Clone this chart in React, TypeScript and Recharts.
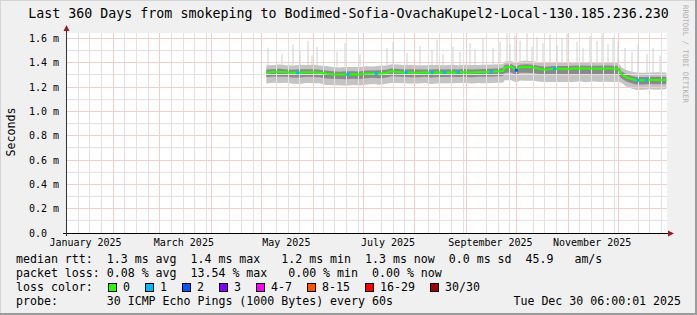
import React from "react";
import {
  ComposedChart,
  CartesianGrid,
  XAxis,
  YAxis,
  Area,
  Line,
  Scatter,
  ReferenceLine,
} from "recharts";

// x values are days since Jan 1 2025, y values are milliseconds
const days = [
  123, 127, 131, 135, 139, 143, 147, 151, 155, 159, 163, 167, 171, 175, 179, 183, 187, 191, 195,
  198, 202, 206, 210, 214, 218, 222, 226, 230, 234, 238, 242, 246, 250, 254, 258, 262,
  265, 266, 270, 273, 275, 279, 283, 287, 291, 295, 299, 303, 307, 311, 315, 319, 323, 327, 331, 334,
  336, 339, 342, 345, 349, 353, 357, 363,
];

const medianMs = [
  1.318, 1.323, 1.324, 1.321, 1.317, 1.319, 1.322, 1.321, 1.318, 1.309, 1.305, 1.302, 1.303, 1.305, 1.303, 1.31, 1.312, 1.312, 1.316,
  1.329, 1.324, 1.32, 1.32, 1.318, 1.321, 1.318, 1.321, 1.32, 1.322, 1.32, 1.324, 1.319, 1.322, 1.323, 1.325, 1.329,
  1.331, 1.36, 1.366, 1.338, 1.362, 1.364, 1.362, 1.348, 1.343, 1.35, 1.351, 1.349, 1.352, 1.354, 1.352, 1.353, 1.351, 1.353, 1.352, 1.35,
  1.305, 1.28, 1.266, 1.256, 1.255, 1.258, 1.257, 1.258,
];

// smoke spread above / below the median
const smokeUpOuter = [
  0.06, 0.058, 0.062, 0.057, 0.06, 0.064, 0.058, 0.061, 0.059, 0.063, 0.06, 0.058, 0.062, 0.059, 0.061, 0.06, 0.057, 0.062, 0.06,
  0.058, 0.061, 0.059, 0.063, 0.06, 0.058, 0.062, 0.06, 0.059, 0.061, 0.058, 0.06, 0.062, 0.059, 0.061, 0.06, 0.058,
  0.056, 0.05, 0.048, 0.06, 0.05, 0.052, 0.049, 0.055, 0.056, 0.053, 0.051, 0.054, 0.052, 0.05, 0.053, 0.051, 0.054, 0.052, 0.053, 0.055,
  0.058, 0.06, 0.062, 0.064, 0.063, 0.061, 0.064, 0.062,
];
const smokeDownOuter = [
  0.09, 0.088, 0.092, 0.086, 0.09, 0.094, 0.089, 0.091, 0.087, 0.093, 0.09, 0.088, 0.092, 0.089, 0.091, 0.09, 0.087, 0.093, 0.09,
  0.095, 0.091, 0.089, 0.092, 0.09, 0.088, 0.093, 0.09, 0.089, 0.091, 0.088, 0.092, 0.09, 0.089, 0.093, 0.091, 0.094,
  0.096, 0.105, 0.11, 0.1, 0.108, 0.112, 0.11, 0.104, 0.102, 0.108, 0.11, 0.107, 0.111, 0.109, 0.112, 0.108, 0.11, 0.109, 0.111, 0.106,
  0.07, 0.075, 0.078, 0.08, 0.078, 0.076, 0.079, 0.077,
];
const smokeUpInner = [
  0.025, 0.024, 0.026, 0.023, 0.025, 0.027, 0.024, 0.025, 0.024, 0.026, 0.025, 0.024, 0.026, 0.024, 0.025, 0.025, 0.023, 0.026, 0.025,
  0.024, 0.025, 0.024, 0.026, 0.025, 0.024, 0.026, 0.025, 0.024, 0.025, 0.024, 0.025, 0.026, 0.024, 0.025, 0.025, 0.024,
  0.024, 0.022, 0.021, 0.026, 0.022, 0.023, 0.022, 0.024, 0.024, 0.023, 0.022, 0.023, 0.023, 0.022, 0.023, 0.022, 0.023, 0.023, 0.023, 0.024,
  0.025, 0.026, 0.027, 0.027, 0.027, 0.026, 0.027, 0.026,
];
const smokeDownInner = [
  0.038, 0.037, 0.039, 0.036, 0.038, 0.04, 0.037, 0.038, 0.037, 0.039, 0.038, 0.037, 0.039, 0.037, 0.038, 0.038, 0.036, 0.039, 0.038,
  0.04, 0.038, 0.037, 0.039, 0.038, 0.037, 0.039, 0.038, 0.037, 0.038, 0.037, 0.039, 0.038, 0.037, 0.039, 0.038, 0.04,
  0.04, 0.044, 0.046, 0.042, 0.045, 0.047, 0.046, 0.044, 0.043, 0.045, 0.046, 0.045, 0.046, 0.046, 0.047, 0.045, 0.046, 0.046, 0.046, 0.044,
  0.032, 0.034, 0.035, 0.036, 0.035, 0.034, 0.035, 0.035,
];

// single slow pings sticking out of the smoke: [day, from, to]
const spikes = [
  [124, 1.38, 1.52], [132.4, 1.38, 1.47], [139, 1.38, 1.55], [143.2, 1.38, 1.5], [148, 1.38, 1.58],
  [150.4, 1.38, 1.46], [153.4, 1.38, 1.53], [165.4, 1.37, 1.49], [170.2, 1.37, 1.56], [179.2, 1.37, 1.47],
  [195.4, 1.38, 1.52], [199, 1.39, 1.57], [207.4, 1.38, 1.48], [215.2, 1.38, 1.54], [222.4, 1.38, 1.5],
  [225.4, 1.38, 1.59], [229, 1.38, 1.47], [235, 1.38, 1.53], [239.2, 1.38, 1.49], [245.2, 1.38, 1.56],
  [248.2, 1.38, 1.51], [253, 1.38, 1.6], [259, 1.39, 1.52], [263.2, 1.39, 1.57], [267.4, 1.41, 1.64],
  [269.2, 1.41, 1.55], [272.2, 1.41, 1.62], [275.2, 1.41, 1.58], [279.4, 1.41, 1.64], [282.4, 1.41, 1.53],
  [285.4, 1.41, 1.61], [289, 1.4, 1.56], [293.2, 1.4, 1.63], [297.4, 1.4, 1.54], [300.4, 1.4, 1.6],
  [303.4, 1.4, 1.64], [309.4, 1.4, 1.57], [313, 1.4, 1.52], [317.2, 1.4, 1.62], [321.4, 1.4, 1.58],
  [324.4, 1.4, 1.64], [328, 1.4, 1.55], [331, 1.4, 1.61], [334, 1.4, 1.57], [338.2, 1.35, 1.52],
  [342.4, 1.32, 1.49], [346, 1.31, 1.55], [351.4, 1.31, 1.47], [355, 1.31, 1.52], [359.2, 1.31, 1.46],
];

// median samples that had packet loss
const lossPoints = [
  { day: 141.8, ms: 1.317, color: "#00b8ff" },
  { day: 172, ms: 1.303, color: "#00b8ff" },
  { day: 189, ms: 1.312, color: "#00b8ff" },
  { day: 207, ms: 1.32, color: "#00b8ff" },
  { day: 222.5, ms: 1.318, color: "#00b8ff" },
  { day: 230, ms: 1.32, color: "#00b8ff" },
  { day: 238, ms: 1.32, color: "#00b8ff" },
  { day: 258, ms: 1.325, color: "#00b8ff" },
  { day: 273, ms: 1.338, color: "#0059ff" },
  { day: 296, ms: 1.35, color: "#00b8ff" },
  { day: 346, ms: 1.256, color: "#00b8ff" },
  { day: 351, ms: 1.257, color: "#00b8ff" },
];

const monthStarts = [31, 59, 90, 120, 151, 181, 212, 243, 273, 304, 334];
const weekStarts = [
  10, 17, 24, 38, 45, 52, 66, 73, 80, 87, 101, 108, 115, 129, 136, 143, 157, 164, 171, 178,
  192, 199, 206, 220, 227, 234, 241, 255, 262, 269, 283, 290, 297, 311, 318, 325, 332, 346, 353, 360,
];
const monthLabelDays = [14.5, 73.5, 135, 196, 257.5, 318.5];
const monthLabels = ["January 2025", "March 2025", "May 2025", "July 2025", "September 2025", "November 2025"];

const yTicks = [0, 0.2, 0.4, 0.6, 0.8, 1.0, 1.2, 1.4, 1.6];
const yTickLabels = ["0.0  ", "0.2 m", "0.4 m", "0.6 m", "0.8 m", "1.0 m", "1.2 m", "1.4 m", "1.6 m"];
const yMinor = [0.1, 0.3, 0.5, 0.7, 0.9, 1.1, 1.3, 1.5];

const lossColors = [
  { label: "0", color: "#26ff00" },
  { label: "1", color: "#00b8ff" },
  { label: "2", color: "#0059ff" },
  { label: "3", color: "#7e00ff" },
  { label: "4-7", color: "#ff00ff" },
  { label: "8-15", color: "#ff5500" },
  { label: "16-29", color: "#ff0000" },
  { label: "30/30", color: "#a10000" },
];

const legendRtt = "median rtt:  1.3 ms avg  1.4 ms max   1.2 ms min  1.3 ms now  0.0 ms sd  45.9   am/s";
const legendLoss = "packet loss: 0.08 % avg  13.54 % max   0.00 % min  0.00 % now";
const legendProbe = "probe:       30 ICMP Echo Pings (1000 Bytes) every 60s";
const stamp = "Tue Dec 30 06:00:01 2025";
const title = "Last 360 Days from smokeping to Bodimed-Sofia-OvachaKupel2-Local-130.185.236.230";

const MONO = "'DejaVu Sans Mono', monospace";
const W = 697;
const H = 315;
const PRE = { whiteSpace: "pre" as const };

const rows = days.map((day, i) => ({
  day,
  median: medianMs[i],
  upO: smokeUpOuter[i],
  dnO: smokeDownOuter[i],
  upI: smokeUpInner[i],
  dnI: smokeDownInner[i],
}));

const YTick = ({ x, y, payload }: any) => (
  <text x={x} y={y} dy={3.5} textAnchor="end" fontSize={10} fontFamily={MONO} fill="#000" xmlSpace="preserve" style={PRE}>
    {yTickLabels[yTicks.indexOf(payload.value)]}
  </text>
);

const XTick = ({ x, y, payload }: any) => (
  <text x={x} y={y} dy={12.5} textAnchor="middle" fontSize={10} fontFamily={MONO} fill="#000">
    {monthLabels[monthLabelDays.indexOf(payload.value)]}
  </text>
);

const LossMark = ({ cx, cy, payload }: any) => (
  <rect x={cx - 1.5} y={cy - 1.5} width={3} height={3} fill={payload.color} />
);

const LegendText = ({ x, y, children, anchor }: any) => (
  <text
    x={x}
    y={y}
    textAnchor={anchor || "start"}
    fontFamily={MONO}
    fontSize={11.6}
    fill="#000"
    xmlSpace="preserve"
    style={PRE}
  >
    {children}
  </text>
);

// rrdtool's dotted grid, drawn as crisp thin lines of the same overall tone
const minorGrid = { stroke: "#e2e2e2", shapeRendering: "crispEdges" };
const majorGrid = { stroke: "#f5cccc", shapeRendering: "crispEdges" };

export default function App() {
  let bx = 108;
  const boxes = lossColors.map((c) => {
    const item = { ...c, x: bx };
    bx += 15 + c.label.length * 7 + 15;
    return item;
  });

  return (
    <div style={{ position: "absolute", left: 0, top: 0, width: W, height: H, background: "#f0f0f0" }}>
      <ComposedChart width={W} height={H} data={rows} margin={{ top: 33, right: 30, bottom: 62, left: 0 }}>
        <CartesianGrid fill="#ffffff" horizontal={false} vertical={false} />
        <XAxis
          dataKey="day"
          type="number"
          domain={[3.4, 363.4]}
          allowDataOverflow
          ticks={monthLabelDays}
          interval={0}
          tick={<XTick />}
          axisLine={false}
          tickLine={false}
          tickSize={0}
          tickMargin={0}
          height={20}
        />
        <YAxis
          type="number"
          domain={[0, 1.644]}
          allowDataOverflow
          ticks={yTicks}
          interval={0}
          tick={<YTick />}
          axisLine={false}
          tickLine={false}
          tickSize={0}
          tickMargin={8}
          width={67}
        />
        {weekStarts.map((d) => (
          <ReferenceLine key={`w${d}`} x={d} {...minorGrid} />
        ))}
        {yMinor.map((v) => (
          <ReferenceLine key={`h${v}`} y={v} {...minorGrid} />
        ))}
        {monthStarts.map((d) => (
          <ReferenceLine key={`M${d}`} x={d} {...majorGrid} />
        ))}
        {yTicks.slice(1).map((v) => (
          <ReferenceLine key={`Y${v}`} y={v} {...majorGrid} />
        ))}
        {spikes.map(([d, lo, hi], i) => (
          <ReferenceLine
            key={`s${i}`}
            segment={[{ x: d, y: lo }, { x: d, y: hi }]}
            stroke="#d0d0d0"
            strokeWidth={1}
          />
        ))}
        <Area
          dataKey={(r: any) => [r.median - r.dnO, r.median + r.upO]}
          stroke="none"
          fill="#c4c4c4"
          fillOpacity={1}
          dot={false}
          activeDot={false}
          isAnimationActive={false}
        />
        <Area
          dataKey={(r: any) => [r.median - r.dnI, r.median + r.upI]}
          stroke="none"
          fill="#8a8a8a"
          fillOpacity={1}
          dot={false}
          activeDot={false}
          isAnimationActive={false}
        />
        <Line
          dataKey="median"
          stroke="#26ff00"
          strokeWidth={2}
          dot={false}
          activeDot={false}
          isAnimationActive={false}
        />
        <Scatter data={lossPoints} dataKey="ms" shape={<LossMark />} isAnimationActive={false} />
      </ComposedChart>

      <svg width={W} height={H} style={{ position: "absolute", left: 0, top: 0, pointerEvents: "none" }}>
        <line x1={0} y1={0.5} x2={W} y2={0.5} stroke="#d4d4d4" />
        <line x1={0.5} y1={0} x2={0.5} y2={H} stroke="#d4d4d4" />
        <line x1={0} y1={H - 1} x2={W} y2={H - 1} stroke="#9c9c9c" strokeWidth={2} />
        <line x1={W - 1} y1={0} x2={W - 1} y2={H} stroke="#9c9c9c" strokeWidth={2} />

        <text x={W / 2} y={18} textAnchor="middle" fontSize={13.3} fontFamily={MONO} fill="#000">
          {title}
        </text>
        <text x={683} y={5} transform="rotate(90 683 5)" fontSize={7.4} fontFamily={MONO} fill="#b0b0b0">
          RRDTOOL / TOBI OETIKER
        </text>
        <text
          x={14.5}
          y={132}
          transform="rotate(-90 14.5 132)"
          textAnchor="middle"
          fontSize={11.6}
          fontFamily={MONO}
          fill="#000"
        >
          Seconds
        </text>

        <line x1={63} y1={233.5} x2={669} y2={233.5} stroke="#000" />
        <polygon points="668,230.5 674,233.5 668,236.5" fill="#9b1c1c" />
        <line x1={66.5} y1={236} x2={66.5} y2={30} stroke="#333" />
        <polygon points="63.5,31 66.5,25 69.5,31" fill="#9b1c1c" />

        <LegendText x={16} y={263}>{legendRtt}</LegendText>
        <LegendText x={16} y={277}>{legendLoss}</LegendText>
        <LegendText x={16} y={291}>loss color:</LegendText>
        {boxes.map((b) => (
          <g key={b.label}>
            <rect x={b.x + 0.5} y={283.5} width={8} height={8} fill={b.color} stroke="#000" />
            <LegendText x={b.x + 15} y={291}>{b.label}</LegendText>
          </g>
        ))}
        <LegendText x={16} y={305}>{legendProbe}</LegendText>
        <LegendText x={681} y={305} anchor="end">{stamp}</LegendText>
      </svg>
    </div>
  );
}
